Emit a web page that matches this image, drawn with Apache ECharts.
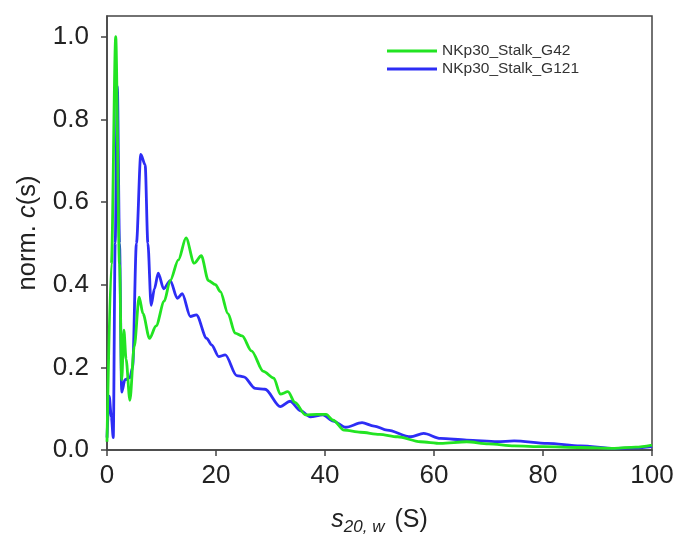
<!DOCTYPE html>
<html>
<head>
<meta charset="utf-8">
<script src="https://cdn.jsdelivr.net/npm/echarts@6/dist/echarts.min.js"></script>
<style>
  html, body { margin: 0; padding: 0; background: #fff; }
  #chart { width: 678px; height: 536px; }
</style>
</head>
<body>
<div id="chart"></div>
<script>
// NKp30_Stalk_G42 (green)
const g42S = [0, 0.8, 1.6, 2.3, 2.7, 3.1, 3.5, 4.2, 5.0, 5.9, 6.6, 7.8, 9.0, 10.5, 11.6, 13.1, 14.5, 16.0, 17.3, 18.6,
  19.9, 20.8, 22.2, 23.5, 24.8, 26.5, 28.7, 30.6, 31.8, 33.2, 34.5, 36.4, 38.5, 40.2, 41.5, 43.5, 46.5, 50, 53.3, 57.5,
  61.2, 66, 70, 74.7, 80, 86.9, 93.1, 97, 100];
const g42C = [0.02, 0.45, 1.0, 0.45, 0.17, 0.29, 0.22, 0.12, 0.25, 0.37, 0.33, 0.27, 0.30, 0.36, 0.41, 0.46, 0.513, 0.452, 0.47, 0.41,
  0.40, 0.383, 0.33, 0.283, 0.276, 0.24, 0.19, 0.174, 0.135, 0.141, 0.115, 0.085, 0.086, 0.086, 0.072, 0.048, 0.043, 0.038, 0.032, 0.02,
  0.016, 0.02, 0.015, 0.01, 0.008, 0.006, 0.004, 0.007, 0.012];

// NKp30_Stalk_G121 (blue)
const g121S = [0, 0.4, 0.8, 1.15, 1.5, 1.9, 2.3, 2.7, 3.3, 4.2, 4.7, 5.4, 6.2, 7.0, 7.5, 8.1, 8.7, 9.4, 10.4, 11.6,
  12.9, 13.8, 15.3, 16.4, 18.3, 19.2, 20.5, 21.7, 23.8, 25.1, 27.2, 29.0, 31.8, 33.6, 35.5, 37.3, 39.6, 41.5, 43.8, 46.8,
  49, 51.4, 55.7, 58.1, 61.2, 66, 71.6, 74.7, 80.8, 86.9, 93.1, 97, 100];
const g121C = [0.03, 0.13, 0.08, 0.03, 0.5, 0.88, 0.5, 0.14, 0.17, 0.175, 0.2, 0.5, 0.715, 0.69, 0.5, 0.35, 0.39, 0.428, 0.39, 0.41,
  0.367, 0.378, 0.323, 0.327, 0.27, 0.254, 0.226, 0.23, 0.18, 0.177, 0.149, 0.147, 0.105, 0.118, 0.095, 0.08, 0.085, 0.07, 0.055, 0.066,
  0.058, 0.048, 0.032, 0.04, 0.028, 0.024, 0.02, 0.022, 0.016, 0.01, 0.004, 0.005, 0.008];

const xTicks = [0, 20, 40, 60, 80, 100];
const yTicks = [0, 0.2, 0.4, 0.6, 0.8, 1.0];

const font = 'Liberation Sans, Arial, sans-serif';
const axisColor = '#444';

const chart = echarts.init(document.getElementById('chart'));
chart.setOption({
  animation: false,
  grid: {
    left: 107, right: 26, top: 16, bottom: 86,
    outerBoundsMode: 'none',
    show: true, borderColor: axisColor, borderWidth: 1.5
  },
  legend: {
    orient: 'vertical',
    left: 382,
    top: 38,
    itemWidth: 50,
    itemHeight: 3,
    itemGap: 2,
    icon: 'rect',
    data: ['NKp30_Stalk_G42', 'NKp30_Stalk_G121'],
    textStyle: { fontFamily: font, fontSize: 15.5, color: '#333' }
  },
  xAxis: {
    type: 'value',
    min: 0,
    max: 100,
    interval: 20,
    name: '{it|s}{sub|20, w} (S)',
    nameLocation: 'middle',
    nameGap: 55,
    nameTextStyle: {
      fontFamily: font, fontSize: 25, color: '#222',
      rich: {
        it: { fontFamily: font, fontSize: 25, fontStyle: 'italic', color: '#222' },
        sub: { fontFamily: font, fontSize: 17, fontStyle: 'italic', color: '#222', verticalAlign: 'bottom', padding: [14, 3, 0, 0] }
      }
    },
    axisLine: { lineStyle: { color: axisColor, width: 1.5 } },
    axisTick: { length: 6, lineStyle: { color: axisColor, width: 1.5 }, customValues: xTicks },
    axisLabel: { fontFamily: font, fontSize: 26, color: '#222', margin: 13, customValues: xTicks },
    splitLine: { show: false }
  },
  yAxis: {
    type: 'value',
    min: 0,
    max: 1.05,
    name: 'norm. {it|c}(s)',
    nameLocation: 'middle',
    nameGap: 66,
    nameTextStyle: {
      fontFamily: font, fontSize: 25.5, color: '#222',
      rich: { it: { fontFamily: font, fontSize: 25.5, fontStyle: 'italic', color: '#222' } }
    },
    axisLine: { lineStyle: { color: axisColor, width: 1.5 } },
    axisTick: { length: 6, lineStyle: { color: axisColor, width: 1.5 }, customValues: yTicks },
    axisLabel: {
      fontFamily: font, fontSize: 26, color: '#222', margin: 18, customValues: yTicks,
      formatter: v => v.toFixed(1)
    },
    splitLine: { show: false }
  },
  series: [
    {
      name: 'NKp30_Stalk_G121',
      type: 'line',
      data: g121S.map((s, i) => [s, g121C[i]]),
      showSymbol: false,
      smooth: 0.3,
      smoothMonotone: 'x',
      lineStyle: { color: '#2d2df5', width: 2.8 },
      itemStyle: { color: '#2d2df5' }
    },
    {
      name: 'NKp30_Stalk_G42',
      type: 'line',
      data: g42S.map((s, i) => [s, g42C[i]]),
      showSymbol: false,
      smooth: 0.3,
      smoothMonotone: 'x',
      lineStyle: { color: '#22e422', width: 2.8 },
      itemStyle: { color: '#22e422' }
    }
  ]
});
</script>
</body>
</html>
